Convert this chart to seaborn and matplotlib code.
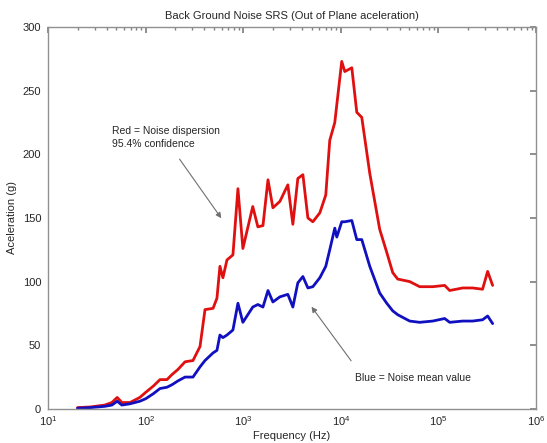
import pandas as pd
import seaborn as sns
import matplotlib.pyplot as plt

freq = [20, 27, 38, 45, 51, 57, 69, 87, 100, 120, 140, 165, 186, 214, 253, 305,
        360, 405, 490, 537, 576, 618, 680, 783, 881, 990, 1250, 1410, 1590, 1790,
        2010, 2370, 2860, 3220, 3620, 4080, 4590, 5160, 6080, 7000, 7690, 8660,
        9080, 10200, 10960, 12940, 14550, 16370, 19770, 25000, 29500, 34000,
        38200, 50700, 64200, 87300, 115700, 130300, 177000, 224000, 283000,
        319000, 359000]

red_dispersion = [1, 1.5, 3, 5, 9, 5, 5, 9, 13, 18, 23, 23, 27, 31, 37, 38,
                  49, 78, 79, 87, 112, 103, 117, 121, 173, 126, 159, 143, 144, 180,
                  158, 163, 176, 145, 181, 184, 150, 147, 154, 168, 211, 225,
                  239, 273, 265, 268, 233, 229, 185, 141, 123, 107,
                  102, 100, 96, 96, 97, 93, 95, 95, 94,
                  108, 97]

blue_mean = [0.5, 1, 2, 3, 6, 3, 4, 6, 8, 12, 16, 17, 19, 22, 25, 25,
             33, 38, 44, 46, 58, 56, 58, 62, 83, 68, 80, 82, 80, 93,
             84, 88, 90, 80, 99, 104, 95, 96, 103, 112, 125, 142,
             135, 147, 147, 148, 133, 133, 112, 91, 83, 77,
             74, 69, 68, 69, 71, 68, 69, 69, 70,
             73, 67]

df = pd.DataFrame({"Frequency": freq, "Red": red_dispersion, "Blue": blue_mean})

sns.set_theme(style="white")
plt.rcParams["font.family"] = ["Liberation Sans", "DejaVu Sans"]

fig = plt.figure(figsize=(5.47, 4.43), dpi=100)
ax = fig.add_axes([0.088, 0.077, 0.892, 0.862])
ax.set_xscale("log")

sns.lineplot(data=df, x="Frequency", y="Red", color="#e01010", linewidth=2, ax=ax)
sns.lineplot(data=df, x="Frequency", y="Blue", color="#1010c0", linewidth=2, ax=ax)

ax.set_xlim(10, 1e6)
ax.set_ylim(0, 300)
ax.set_yticks(range(0, 301, 50))
ax.set_title("Back Ground Noise SRS (Out of Plane aceleration)", fontsize=8, pad=6)
ax.set_xlabel("Frequency (Hz)", fontsize=8, labelpad=2)
ax.set_ylabel("Aceleration (g)", fontsize=8, labelpad=4)

ax.tick_params(which="both", direction="in", top=True, right=True,
               labelsize=8, color="#808080")
ax.tick_params(axis="x", pad=4)
ax.tick_params(axis="y", pad=5)
ax.tick_params(which="major", length=4)
ax.tick_params(which="minor", length=2)
for s in ax.spines.values():
    s.set_color("#909090")
    s.set_linewidth(1)

ax.text(45, 222, "Red = Noise dispersion\n95.4% confidence", fontsize=7.5,
        va="top", ha="left", linespacing=1.3)
ax.annotate("", xy=(618, 148), xytext=(214, 198),
            arrowprops=dict(arrowstyle="-|>", color="#707070", lw=0.8,
                            mutation_scale=8))
ax.text(13900, 24.5, "Blue = Noise mean value", fontsize=7.5, va="center", ha="left")
ax.annotate("", xy=(4810, 82), xytext=(13240, 36),
            arrowprops=dict(arrowstyle="-|>", color="#707070", lw=0.8,
                            mutation_scale=8))

fig.savefig("out.png", dpi=100)
